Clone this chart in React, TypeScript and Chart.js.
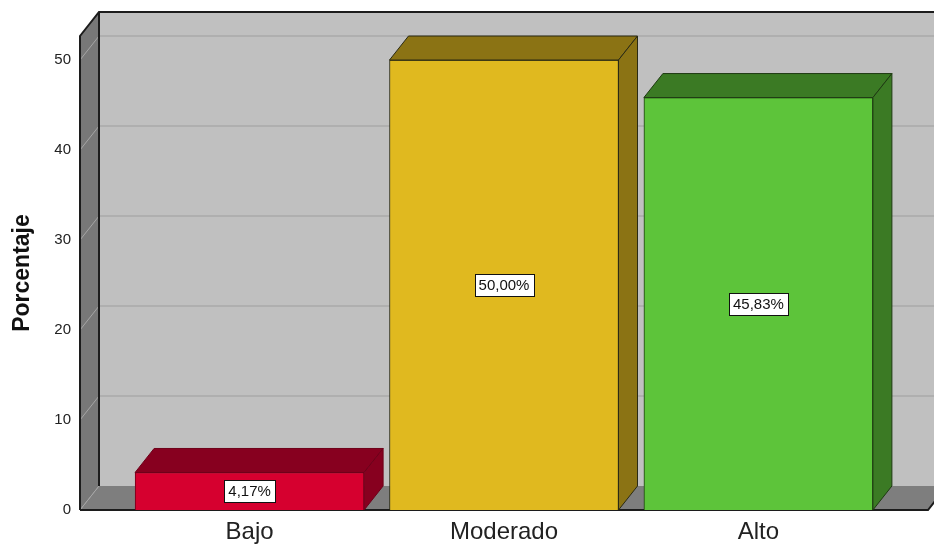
import { useEffect, useRef } from "react";
import { Chart, registerables } from "chart.js";

Chart.register(...registerables);

const categories = ["Bajo", "Moderado", "Alto"];
const percentages = [4.17, 50.0, 45.83];
const valueLabels = ["4,17%", "50,00%", "45,83%"];
const yTicks = [0, 10, 20, 30, 40, 50];
const frontColors = ["#d6002f", "#e0b91f", "#5dc43a"];
const sideColors = ["#87001f", "#8b7314", "#3b7a24"];
const edgeColors = ["#6e0019", "#2a2a14", "#1e3a12"];

const FONT = "'Liberation Sans', Arial, sans-serif";
const DX = 19;
const DY = 24;

const wallPlugin = {
  id: "walls3d",
  beforeDatasetsDraw(chart: any) {
    const { ctx, chartArea: a, scales } = chart;
    const y = scales.y;
    const W = chart.width;
    ctx.save();
    // back wall
    ctx.fillStyle = "#c0c0c0";
    ctx.fillRect(a.left + DX, a.top - DY, W - (a.left + DX), a.bottom - a.top);
    // back wall gridlines
    ctx.strokeStyle = "#afafaf";
    ctx.lineWidth = 2;
    yTicks.forEach((v) => {
      if (v === 0) return;
      const py = y.getPixelForValue(v) - DY;
      ctx.beginPath();
      ctx.moveTo(a.left + DX, py);
      ctx.lineTo(W, py);
      ctx.stroke();
    });
    // left wall
    ctx.fillStyle = "#787878";
    ctx.beginPath();
    ctx.moveTo(a.left, a.top);
    ctx.lineTo(a.left + DX, a.top - DY);
    ctx.lineTo(a.left + DX, a.bottom - DY);
    ctx.lineTo(a.left, a.bottom);
    ctx.closePath();
    ctx.fill();
    // floor
    ctx.fillStyle = "#7e7e7e";
    ctx.beginPath();
    ctx.moveTo(a.left, a.bottom);
    ctx.lineTo(a.left + DX, a.bottom - DY);
    ctx.lineTo(a.right + DX, a.bottom - DY);
    ctx.lineTo(a.right, a.bottom);
    ctx.closePath();
    ctx.fill();
    // left wall gridline diagonals
    ctx.strokeStyle = "#a6a6a6";
    ctx.lineWidth = 1;
    yTicks.forEach((v) => {
      const py = y.getPixelForValue(v);
      ctx.beginPath();
      ctx.moveTo(a.left, py);
      ctx.lineTo(a.left + DX, py - DY);
      ctx.stroke();
    });
    // edges
    ctx.strokeStyle = "#1c1c1c";
    ctx.lineWidth = 2;
    ctx.beginPath();
    ctx.moveTo(a.left, a.bottom);
    ctx.lineTo(a.left, a.top);
    ctx.lineTo(a.left + DX, a.top - DY);
    ctx.lineTo(W, a.top - DY);
    ctx.stroke();
    ctx.beginPath();
    ctx.moveTo(a.left + DX, a.top - DY);
    ctx.lineTo(a.left + DX, a.bottom - DY);
    ctx.stroke();
    ctx.beginPath();
    ctx.moveTo(a.left, a.bottom);
    ctx.lineTo(a.right, a.bottom);
    ctx.lineTo(a.right + DX, a.bottom - DY);
    ctx.stroke();
    ctx.restore();
  },
  afterDatasetsDraw(chart: any) {
    const { ctx } = chart;
    const meta = chart.getDatasetMeta(0);
    ctx.save();
    meta.data.forEach((bar: any, i: number) => {
      const { x, y, base, width } = bar.getProps(["x", "y", "base", "width"], true);
      const l = x - width / 2;
      const r = x + width / 2;
      ctx.fillStyle = sideColors[i];
      ctx.strokeStyle = edgeColors[i];
      ctx.lineWidth = 1;
      // top face
      ctx.beginPath();
      ctx.moveTo(l, y);
      ctx.lineTo(l + DX, y - DY);
      ctx.lineTo(r + DX, y - DY);
      ctx.lineTo(r, y);
      ctx.closePath();
      ctx.fill();
      ctx.stroke();
      // side face
      ctx.beginPath();
      ctx.moveTo(r, y);
      ctx.lineTo(r + DX, y - DY);
      ctx.lineTo(r + DX, base - DY);
      ctx.lineTo(r, base);
      ctx.closePath();
      ctx.fill();
      ctx.stroke();
      // value label
      const cy = (y + base) / 2;
      ctx.font = `15px ${FONT}`;
      const tw = ctx.measureText(valueLabels[i]).width;
      const bw = tw + 8;
      const bh = 22;
      ctx.fillStyle = "#ffffff";
      ctx.fillRect(Math.round(x - bw / 2) + 0.5, Math.round(cy - bh / 2) + 0.5, Math.round(bw), bh);
      ctx.strokeStyle = "#111";
      ctx.lineWidth = 1;
      ctx.strokeRect(Math.round(x - bw / 2) + 0.5, Math.round(cy - bh / 2) + 0.5, Math.round(bw), bh);
      ctx.fillStyle = "#111";
      ctx.textAlign = "center";
      ctx.textBaseline = "middle";
      ctx.fillText(valueLabels[i], x, cy + 1);
    });
    ctx.restore();
  },
};

export default function App() {
  const ref = useRef<HTMLCanvasElement | null>(null);
  useEffect(() => {
    document.body.style.margin = "0";
    const canvas = ref.current;
    if (!canvas) return;
    const chart = new Chart(canvas, {
      type: "bar",
      data: {
        datasets: [
          {
            data: percentages.map((v, i) => ({ x: i, y: v })),
            backgroundColor: frontColors,
            borderColor: edgeColors,
            borderWidth: 1,
            barThickness: 229,
          },
        ],
      },
      options: {
        responsive: false,
        animation: false,
        layout: { padding: { top: 36, right: 6, left: 0, bottom: 0 } },
        plugins: { legend: { display: false }, tooltip: { enabled: false } },
        scales: {
          x: {
            type: "linear",
            offset: false,
            min: -2 / 3,
            max: 8 / 3,
            grid: { display: false, drawTicks: false, offset: false },
            border: { display: false },
            afterBuildTicks: (scale: any) => {
              scale.ticks = categories.map((_, i) => ({ value: i }));
            },
            afterFit: (scale: any) => {
              scale.height = 36;
            },
            ticks: {
              autoSkip: false,
              maxRotation: 0,
              padding: 8,
              color: "#222",
              font: { family: FONT, size: 24 },
              callback: (v: any) => categories[Math.round(Number(v))] ?? "",
            },
          },
          y: {
            min: 0,
            max: 52.67,
            grid: { display: false, drawTicks: false },
            border: { display: false },
            afterFit: (scale: any) => {
              scale.width = 80;
            },
            ticks: {
              stepSize: 10,
              includeBounds: false,
              padding: 9,
              color: "#222",
              font: { family: FONT, size: 15 },
            },
            title: {
              display: true,
              text: "Porcentaje",
              color: "#111",
              font: { family: FONT, size: 23, weight: "bold" },
              padding: { top: 9, bottom: 0 },
            },
          },
        },
      },
      plugins: [wallPlugin],
    } as any);
    return () => chart.destroy();
  }, []);
  return <canvas ref={ref} width={934} height={546} />;
}
